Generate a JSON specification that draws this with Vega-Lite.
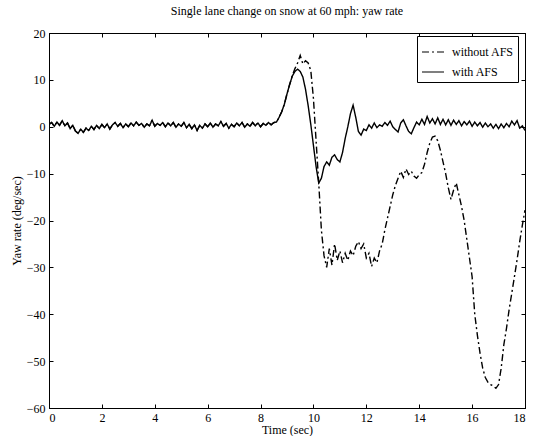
{
"$schema": "https://vega.github.io/schema/vega-lite/v6.json",
"width": 476, "height": 375,
"autosize": {"type": "none"},
"padding": {"left": 49, "top": 33, "right": 13, "bottom": 28},
"background": "white",
"title": {"text": "Single lane change on snow at 60 mph: yaw rate", "font": "Liberation Serif", "fontSize": 12, "fontWeight": "normal", "color": "black", "offset": 9},
"config": {
  "view": {"stroke": "black", "strokeWidth": 1},
  "axis": {"domainColor": "black", "domainWidth": 1, "tickColor": "black", "tickSize": -4, "labelColor": "black", "labelFont": "Liberation Serif", "labelFontSize": 12, "titleFont": "Liberation Serif", "titleFontSize": 12, "titleFontWeight": "normal", "titleColor": "black", "grid": false, "labelPadding": 8}
},
"data": {"values": [
{"t":0.0,"without AFS":0.5,"with AFS":0.5},{"t":0.1,"without AFS":0.9,"with AFS":0.9},{"t":0.2,"without AFS":0.1,"with AFS":0.1},{"t":0.3,"without AFS":1.0,"with AFS":1.0},{"t":0.4,"without AFS":0.3,"with AFS":0.3},{"t":0.5,"without AFS":1.3,"with AFS":1.3},{"t":0.6,"without AFS":0.2,"with AFS":0.2},{"t":0.7,"without AFS":0.8,"with AFS":0.8},{"t":0.8,"without AFS":-0.4,"with AFS":-0.4},{"t":0.9,"without AFS":0.3,"with AFS":0.3},
{"t":1.0,"without AFS":-0.9,"with AFS":-0.9},{"t":1.1,"without AFS":-1.4,"with AFS":-1.4},{"t":1.2,"without AFS":-0.5,"with AFS":-0.5},{"t":1.3,"without AFS":-1.2,"with AFS":-1.2},{"t":1.4,"without AFS":-0.3,"with AFS":-0.3},{"t":1.5,"without AFS":-0.8,"with AFS":-0.8},{"t":1.6,"without AFS":0.1,"with AFS":0.1},{"t":1.7,"without AFS":-0.6,"with AFS":-0.6},{"t":1.8,"without AFS":0.3,"with AFS":0.3},{"t":1.9,"without AFS":-0.4,"with AFS":-0.4},
{"t":2.0,"without AFS":0.5,"with AFS":0.5},{"t":2.1,"without AFS":-0.2,"with AFS":-0.2},{"t":2.2,"without AFS":0.6,"with AFS":0.6},{"t":2.3,"without AFS":-0.5,"with AFS":-0.5},{"t":2.4,"without AFS":0.4,"with AFS":0.4},{"t":2.5,"without AFS":0.9,"with AFS":0.9},{"t":2.6,"without AFS":0.1,"with AFS":0.1},{"t":2.7,"without AFS":0.7,"with AFS":0.7},{"t":2.8,"without AFS":-0.2,"with AFS":-0.2},{"t":2.9,"without AFS":0.6,"with AFS":0.6},
{"t":3.0,"without AFS":0.0,"with AFS":0.0},{"t":3.1,"without AFS":0.8,"with AFS":0.8},{"t":3.2,"without AFS":0.2,"with AFS":0.2},{"t":3.3,"without AFS":1.0,"with AFS":1.0},{"t":3.4,"without AFS":0.3,"with AFS":0.3},{"t":3.5,"without AFS":0.7,"with AFS":0.7},{"t":3.6,"without AFS":-0.1,"with AFS":-0.1},{"t":3.7,"without AFS":0.6,"with AFS":0.6},{"t":3.8,"without AFS":0.2,"with AFS":0.2},{"t":3.9,"without AFS":1.4,"with AFS":1.4},
{"t":4.0,"without AFS":0.1,"with AFS":0.1},{"t":4.1,"without AFS":0.7,"with AFS":0.7},{"t":4.2,"without AFS":0.3,"with AFS":0.3},{"t":4.3,"without AFS":0.9,"with AFS":0.9},{"t":4.4,"without AFS":0.0,"with AFS":0.0},{"t":4.5,"without AFS":0.8,"with AFS":0.8},{"t":4.6,"without AFS":0.2,"with AFS":0.2},{"t":4.7,"without AFS":0.9,"with AFS":0.9},{"t":4.8,"without AFS":-0.1,"with AFS":-0.1},{"t":4.9,"without AFS":0.6,"with AFS":0.6},
{"t":5.0,"without AFS":0.1,"with AFS":0.1},{"t":5.1,"without AFS":0.9,"with AFS":0.9},{"t":5.2,"without AFS":-0.2,"with AFS":-0.2},{"t":5.3,"without AFS":0.5,"with AFS":0.5},{"t":5.4,"without AFS":-0.4,"with AFS":-0.4},{"t":5.5,"without AFS":0.4,"with AFS":0.4},{"t":5.6,"without AFS":-0.8,"with AFS":-0.8},{"t":5.7,"without AFS":0.3,"with AFS":0.3},{"t":5.8,"without AFS":-0.3,"with AFS":-0.3},{"t":5.9,"without AFS":0.6,"with AFS":0.6},
{"t":6.0,"without AFS":0.0,"with AFS":0.0},{"t":6.1,"without AFS":0.8,"with AFS":0.8},{"t":6.2,"without AFS":-0.1,"with AFS":-0.1},{"t":6.3,"without AFS":0.6,"with AFS":0.6},{"t":6.4,"without AFS":0.2,"with AFS":0.2},{"t":6.5,"without AFS":1.1,"with AFS":1.1},{"t":6.6,"without AFS":0.1,"with AFS":0.1},{"t":6.7,"without AFS":0.7,"with AFS":0.7},{"t":6.8,"without AFS":-0.3,"with AFS":-0.3},{"t":6.9,"without AFS":0.5,"with AFS":0.5},
{"t":7.0,"without AFS":0.0,"with AFS":0.0},{"t":7.1,"without AFS":0.8,"with AFS":0.8},{"t":7.2,"without AFS":0.2,"with AFS":0.2},{"t":7.3,"without AFS":0.9,"with AFS":0.9},{"t":7.4,"without AFS":-0.1,"with AFS":-0.1},{"t":7.5,"without AFS":0.6,"with AFS":0.6},{"t":7.6,"without AFS":0.1,"with AFS":0.1},{"t":7.7,"without AFS":0.9,"with AFS":0.9},{"t":7.8,"without AFS":0.2,"with AFS":0.2},{"t":7.9,"without AFS":0.8,"with AFS":0.8},
{"t":8.0,"without AFS":0.0,"with AFS":0.0},{"t":8.1,"without AFS":0.7,"with AFS":0.7},{"t":8.2,"without AFS":0.3,"with AFS":0.3},{"t":8.3,"without AFS":0.9,"with AFS":0.9},{"t":8.4,"without AFS":0.4,"with AFS":0.4},{"t":8.5,"without AFS":0.9,"with AFS":0.9},{"t":8.6,"without AFS":1.0,"with AFS":1.0},{"t":8.7,"without AFS":2.0,"with AFS":2.0},{"t":8.8,"without AFS":3.2,"with AFS":3.2},{"t":8.9,"without AFS":4.8,"with AFS":4.8},
{"t":9.0,"without AFS":7.0,"with AFS":7.0},{"t":9.1,"without AFS":9.0,"with AFS":9.0},{"t":9.2,"without AFS":10.9,"with AFS":10.8},{"t":9.3,"without AFS":12.4,"with AFS":11.8},{"t":9.4,"without AFS":13.6,"with AFS":12.3},{"t":9.5,"without AFS":15.2,"with AFS":11.8},{"t":9.6,"without AFS":13.4,"with AFS":10.6},{"t":9.7,"without AFS":14.1,"with AFS":8.0},{"t":9.8,"without AFS":13.6,"with AFS":4.5},{"t":9.9,"without AFS":12.0,"with AFS":0.5},
{"t":10.0,"without AFS":6.0,"with AFS":-4.0},{"t":10.1,"without AFS":-3.0,"with AFS":-8.5},{"t":10.2,"without AFS":-12.0,"with AFS":-12.0},{"t":10.3,"without AFS":-22.0,"with AFS":-11.0},{"t":10.4,"without AFS":-27.5,"with AFS":-8.5},{"t":10.5,"without AFS":-30.0,"with AFS":-7.5},{"t":10.6,"without AFS":-26.0,"with AFS":-8.2},{"t":10.7,"without AFS":-29.5,"with AFS":-6.5},{"t":10.8,"without AFS":-25.0,"with AFS":-6.0},{"t":10.9,"without AFS":-28.5,"with AFS":-7.0},
{"t":11.0,"without AFS":-26.5,"with AFS":-7.5},{"t":11.1,"without AFS":-29.0,"with AFS":-5.5},{"t":11.2,"without AFS":-27.0,"with AFS":-2.5},{"t":11.3,"without AFS":-28.5,"with AFS":0.0},{"t":11.4,"without AFS":-26.5,"with AFS":2.8},{"t":11.5,"without AFS":-27.5,"with AFS":4.6},{"t":11.6,"without AFS":-25.5,"with AFS":2.0},{"t":11.7,"without AFS":-24.5,"with AFS":-1.0},{"t":11.8,"without AFS":-26.0,"with AFS":-1.8},{"t":11.9,"without AFS":-25.0,"with AFS":-0.5},
{"t":12.0,"without AFS":-28.0,"with AFS":-0.8},{"t":12.1,"without AFS":-27.0,"with AFS":0.4},{"t":12.2,"without AFS":-29.8,"with AFS":-0.3},{"t":12.3,"without AFS":-28.0,"with AFS":0.8},{"t":12.4,"without AFS":-29.0,"with AFS":-0.2},{"t":12.5,"without AFS":-26.5,"with AFS":0.4},{"t":12.6,"without AFS":-25.0,"with AFS":0.1},{"t":12.7,"without AFS":-22.0,"with AFS":0.9},{"t":12.8,"without AFS":-19.5,"with AFS":0.3},{"t":12.9,"without AFS":-17.0,"with AFS":1.2},
{"t":13.0,"without AFS":-14.5,"with AFS":0.0},{"t":13.1,"without AFS":-12.5,"with AFS":-0.6},{"t":13.2,"without AFS":-11.0,"with AFS":-1.1},{"t":13.3,"without AFS":-9.5,"with AFS":0.8},{"t":13.4,"without AFS":-10.8,"with AFS":1.5},{"t":13.5,"without AFS":-9.0,"with AFS":0.2},{"t":13.6,"without AFS":-10.2,"with AFS":-1.0},{"t":13.7,"without AFS":-9.5,"with AFS":-1.5},{"t":13.8,"without AFS":-10.5,"with AFS":-0.2},{"t":13.9,"without AFS":-11.0,"with AFS":1.0},
{"t":14.0,"without AFS":-10.2,"with AFS":0.4},{"t":14.1,"without AFS":-9.8,"with AFS":1.6},{"t":14.2,"without AFS":-8.0,"with AFS":0.5},{"t":14.3,"without AFS":-5.5,"with AFS":2.2},{"t":14.4,"without AFS":-3.5,"with AFS":0.8},{"t":14.5,"without AFS":-2.2,"with AFS":1.7},{"t":14.6,"without AFS":-2.0,"with AFS":0.6},{"t":14.7,"without AFS":-3.0,"with AFS":1.9},{"t":14.8,"without AFS":-5.0,"with AFS":0.5},{"t":14.9,"without AFS":-7.5,"with AFS":1.6},
{"t":15.0,"without AFS":-10.0,"with AFS":0.4},{"t":15.1,"without AFS":-13.0,"with AFS":1.5},{"t":15.2,"without AFS":-15.5,"with AFS":0.3},{"t":15.3,"without AFS":-13.5,"with AFS":1.4},{"t":15.4,"without AFS":-12.0,"with AFS":0.5},{"t":15.5,"without AFS":-14.5,"with AFS":1.3},{"t":15.6,"without AFS":-17.0,"with AFS":0.2},{"t":15.7,"without AFS":-20.0,"with AFS":1.1},{"t":15.8,"without AFS":-24.0,"with AFS":0.4},{"t":15.9,"without AFS":-28.0,"with AFS":1.2},
{"t":16.0,"without AFS":-32.0,"with AFS":0.1},{"t":16.1,"without AFS":-40.0,"with AFS":1.0},{"t":16.2,"without AFS":-44.5,"with AFS":0.2},{"t":16.3,"without AFS":-48.3,"with AFS":0.9},{"t":16.4,"without AFS":-51.5,"with AFS":-0.1},{"t":16.5,"without AFS":-53.5,"with AFS":0.8},{"t":16.6,"without AFS":-54.5,"with AFS":0.0},{"t":16.7,"without AFS":-55.0,"with AFS":0.6},{"t":16.8,"without AFS":-55.3,"with AFS":-0.3},{"t":16.9,"without AFS":-55.8,"with AFS":0.5},
{"t":17.0,"without AFS":-55.0,"with AFS":-0.4},{"t":17.1,"without AFS":-51.5,"with AFS":0.6},{"t":17.2,"without AFS":-46.5,"with AFS":-0.2},{"t":17.3,"without AFS":-43.0,"with AFS":0.7},{"t":17.4,"without AFS":-39.0,"with AFS":0.0},{"t":17.5,"without AFS":-35.5,"with AFS":1.2},{"t":17.6,"without AFS":-32.0,"with AFS":0.4},{"t":17.7,"without AFS":-28.4,"with AFS":1.3},{"t":17.8,"without AFS":-24.5,"with AFS":-0.3},{"t":17.9,"without AFS":-21.0,"with AFS":0.2},
{"t":18.0,"without AFS":-17.8,"with AFS":-0.8}
]},
"transform": [{"fold": ["without AFS", "with AFS"], "as": ["series", "value"]}],
"layer": [
  {
    "mark": {"type": "line", "color": "black", "strokeWidth": 1.4, "clip": true},
    "encoding": {
      "x": {"field": "t", "type": "quantitative", "scale": {"domain": [0, 18], "nice": false, "zero": false}, "axis": {"title": "Time (sec)", "values": [0,2,4,6,8,10,12,14,16,18], "titlePadding": 1}},
      "y": {"field": "value", "type": "quantitative", "scale": {"domain": [-60, 20], "nice": false}, "axis": {"title": "Yaw rate (deg/sec)", "values": [-60,-50,-40,-30,-20,-10,0,10,20], "titlePadding": 3}},
      "strokeDash": {"field": "series", "type": "nominal", "scale": {"domain": ["without AFS", "with AFS"], "range": [[7,3,2,3],[1,0]]},
        "legend": {"title": null, "orient": "none", "legendX": 368, "legendY": 3, "strokeColor": "black", "fillColor": "white", "padding": 4, "labelFont": "Liberation Serif", "labelFontSize": 12, "labelColor": "black", "symbolType": "stroke", "symbolSize": 484, "symbolStrokeColor": "black", "symbolStrokeWidth": 1.2, "labelOffset": 7, "rowPadding": 2, "cornerRadius": 0}}
    }
  },
  {
    "mark": {"type": "line", "strokeOpacity": 0},
    "encoding": {
      "x": {"field": "t", "type": "quantitative", "axis": {"orient": "top", "labels": false, "title": null, "values": [0,2,4,6,8,10,12,14,16,18]}},
      "y": {"field": "value", "type": "quantitative", "axis": {"orient": "right", "labels": false, "title": null, "values": [-60,-50,-40,-30,-20,-10,0,10,20]}}
    }
  }
],
"resolve": {"axis": {"x": "independent", "y": "independent"}}
}
